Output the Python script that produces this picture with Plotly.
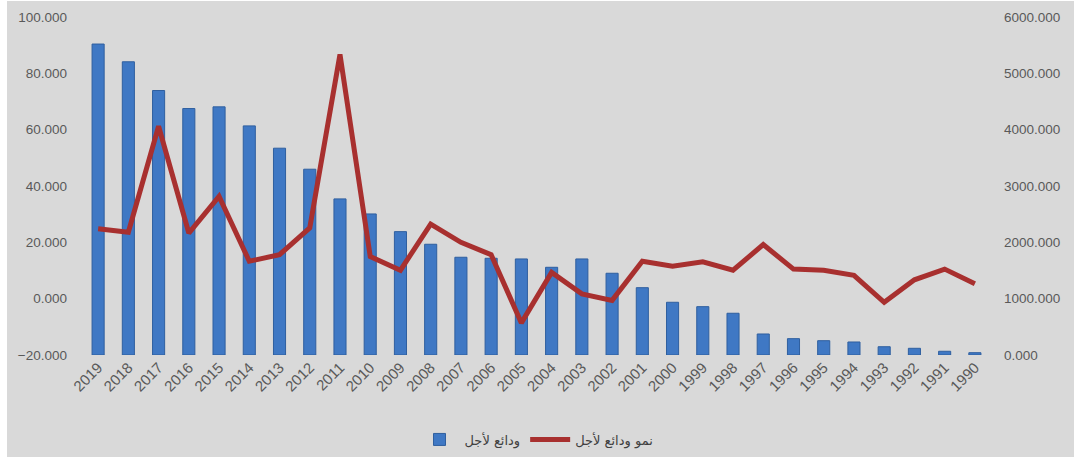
import plotly.graph_objects as go

years = [str(y) for y in range(2019, 1989, -1)]
term_deposits = [5520, 5205, 4695, 4375, 4405, 4067, 3671, 3298, 2771, 2504,
                 2190, 1966, 1735, 1717, 1705, 1557, 1705, 1451, 1195, 936,
                 858, 741, 373, 290, 254, 231, 147, 119, 66, 41]
growth = [24.8, 23.6, 61.2, 23.3, 36.3, 13.3, 15.6, 25.1, 86.7, 15.0,
          10.1, 26.5, 20.0, 15.6, -8.6, 9.3, 1.7, -0.6, 13.3, 11.5,
          13.1, 10.1, 19.2, 10.5, 10.1, 8.3, -1.3, 6.7, 10.5, 5.3]
left_ticks = [-20, 0, 20, 40, 60, 80, 100]
right_ticks = [0, 1000, 2000, 3000, 4000, 5000, 6000]

W, H = 1074, 459
ML, MR, MT, MB = 83, 84, 17, 104
pw, ph = W - ML - MR, H - MT - MB

fig = go.Figure()
fig.add_trace(go.Bar(
    x=years, y=term_deposits, name="ودائع لأجل", yaxis="y",
    marker=dict(color="#3f78c4", line=dict(color="#2f5f9f", width=1)),
))
fig.add_trace(go.Scatter(
    x=years, y=growth, name="نمو ودائع لأجل", mode="lines", yaxis="y2",
    line=dict(color="#a8302f", width=5),
))

tickfont = dict(family="Liberation Sans, Arial", size=13.5, color="#595959")
fig.update_layout(
    width=W, height=H,
    margin=dict(l=ML, r=MR, t=MT, b=MB, autoexpand=False),
    paper_bgcolor="white",
    plot_bgcolor="#d9d9d9",
    bargap=0.6,
    showlegend=True,
    legend=dict(orientation="h", x=0.5, xanchor="center", y=-0.25, yanchor="middle",
                font=dict(family="DejaVu Sans", size=13, color="#404040"),
                bgcolor="rgba(0,0,0,0)", itemwidth=40, traceorder="normal"),
    xaxis=dict(type="category", tickangle=-45, showgrid=False, automargin=False,
               tickfont=dict(family="Liberation Sans, Arial", size=15, color="#595959"),
               showline=False, zeroline=False, ticks=""),
    yaxis=dict(range=[0, 6000], tickvals=right_ticks, tickformat=".3f", side="right",
               tickfont=tickfont, showgrid=False, zeroline=False, showline=False,
               ticklabelstandoff=13, automargin=False),
    yaxis2=dict(range=[-20, 100], tickvals=left_ticks, tickformat=".3f",
                overlaying="y", side="left", tickfont=tickfont, showgrid=False,
                zeroline=False, showline=False, ticklabelstandoff=15, automargin=False),
    shapes=[dict(type="rect", xref="paper", yref="paper", layer="below",
                 x0=(7 - ML) / pw, x1=(W - ML) / pw,
                 y0=(H - MB - (H - 2)) / ph, y1=(H - MB - 1) / ph,
                 fillcolor="#d9d9d9", line=dict(width=0))],
)

fig.write_html("out.html")
